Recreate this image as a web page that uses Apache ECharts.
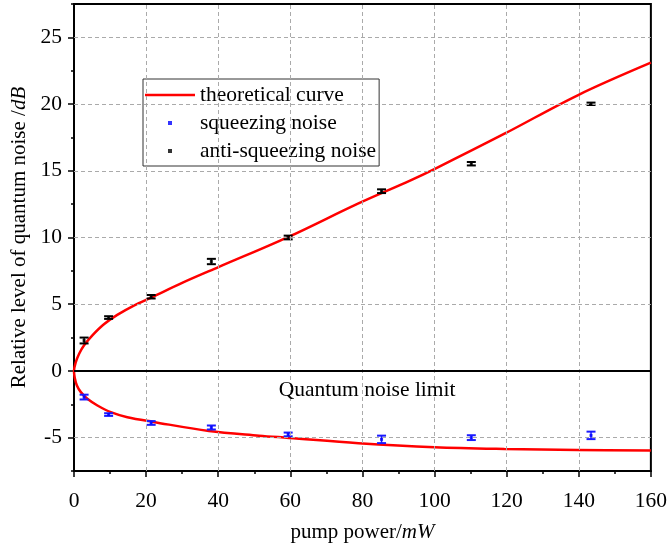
<!DOCTYPE html>
<html>
<head>
<meta charset="utf-8">
<script src="https://cdn.jsdelivr.net/npm/echarts@6/dist/echarts.min.js"></script>
<style>html,body{margin:0;padding:0;background:#fff;}#c{width:670px;height:551px;}</style>
</head>
<body>
<div id="c"></div>
<script>
// ---- data ----
const pumpPower = [2.8, 9.6, 21.4, 38.1, 59.4, 85.3, 110.2, 143.4];
const antiSqueezing = [2.28, 4.0, 5.56, 8.2, 10.0, 13.47, 15.53, 20.02];
const antiSqueezingErr = [0.22, 0.1, 0.13, 0.2, 0.14, 0.14, 0.13, 0.09];
const squeezing = [-1.96, -3.27, -3.9, -4.24, -4.76, -5.13, -5.0, -4.83];
const squeezingErr = [0.18, 0.1, 0.14, 0.15, 0.14, 0.28, 0.18, 0.28];
// theoretical curve, upper branch (anti-squeezing) and lower branch (squeezing)
const curveUpperX = [0, 0.5, 1.43, 2.8, 5.1, 8.3, 12.0, 16.6, 21.4, 30.0, 40.2, 59.5, 78.9, 93.2, 100.1, 119.4, 139.7, 160];
const curveUpperY = [0, 0.66, 1.29, 1.92, 2.67, 3.5, 4.2, 4.9, 5.5, 6.6, 7.8, 10.05, 12.56, 14.27, 15.15, 17.78, 20.66, 23.1];
const curveLowerX = [0, 0.2, 0.8, 1.9, 3.7, 6.5, 10.2, 14.8, 22.0, 37.4, 51.3, 59.6, 78.9, 100.0, 119.4, 139.7, 160];
const curveLowerY = [0, -0.51, -1.09, -1.59, -2.09, -2.59, -3.09, -3.47, -3.82, -4.5, -4.85, -5.02, -5.42, -5.72, -5.85, -5.92, -5.97];
const xTicks = {min: 0, max: 160, interval: 20};
const xGridValues = [20, 40, 60, 80, 100, 120, 140];
const yMajorTicks = [-5, 0, 5, 10, 15, 20, 25];
const yMinorTicks = [-7.5, -2.5, 2.5, 7.5, 12.5, 17.5, 22.5, 27.5];
const yGridValues = [-5, 5, 10, 15, 20, 25];
const yRange = {min: -7.5, max: 27.5};
const noiseLimitLabel = {text: 'Quantum noise limit', x: 81.3, y: -1.42};

// ---- build ----
const FONT = '"Liberation Serif","Times New Roman",serif';
const curveData = [];
for (let i = curveUpperX.length - 1; i >= 0; i--) curveData.push([curveUpperX[i], curveUpperY[i]]);
for (let i = 1; i < curveLowerX.length; i++) curveData.push([curveLowerX[i], curveLowerY[i]]);

const sqPts = pumpPower.map((x, i) => [x, squeezing[i], squeezingErr[i]]);
const asqPts = pumpPower.map((x, i) => [x, antiSqueezing[i], antiSqueezingErr[i]]);

function errRender(color) {
  return function (params, api) {
    const x = api.value(0), y = api.value(1), e = api.value(2);
    const hi = api.coord([x, y + e]);
    const lo = api.coord([x, y - e]);
    const hw = 4.5;
    const st = {stroke: color, lineWidth: 2};
    return {
      type: 'group',
      children: [
        {type: 'line', shape: {x1: hi[0], y1: hi[1], x2: lo[0], y2: lo[1]}, style: {stroke: color, lineWidth: 1.5}},
        {type: 'line', shape: {x1: hi[0] - hw, y1: hi[1], x2: hi[0] + hw, y2: hi[1]}, style: st},
        {type: 'line', shape: {x1: lo[0] - hw, y1: lo[1], x2: lo[0] + hw, y2: lo[1]}, style: st}
      ]
    };
  };
}

const dashed = {color: '#aaaaaa', type: [4, 3], width: 1};
const gridMarks = []
  .concat(xGridValues.map(v => ({xAxis: v, lineStyle: dashed})))
  .concat(yGridValues.map(v => ({yAxis: v, lineStyle: dashed})))
  .concat([{yAxis: 0, lineStyle: {color: '#000', type: 'solid', width: 2}}]);

const chart = echarts.init(document.getElementById('c'), null, {renderer: 'canvas'});
const SQUARE = 'path://M0,0L1,0L1,1L0,1Z';
const BAR = 'path://M0,0L50,0L50,2.5L0,2.5Z';
chart.setOption({
  animation: false,
  backgroundColor: '#fff',
  textStyle: {fontFamily: FONT},
  grid: {left: 74, right: 16, top: 4, bottom: 80, show: true, borderColor: '#000', borderWidth: 2, backgroundColor: 'transparent'},
  legend: {
    left: 143, top: 79, orient: 'vertical',
    data: [
      {name: 'theoretical curve', icon: BAR},
      {name: 'squeezing noise', icon: SQUARE},
      {name: 'anti-squeezing noise', icon: SQUARE}
    ],
    itemWidth: 50, itemHeight: 4, itemGap: 6, symbolKeepAspect: true,
    padding: [5, 3, 4, 2],
    borderColor: '#333', borderWidth: 1, backgroundColor: '#fff',
    textStyle: {fontFamily: FONT, fontSize: 21.5, color: '#000'}
  },
  xAxis: {
    type: 'value', min: xTicks.min, max: xTicks.max, interval: xTicks.interval,
    name: '{n|pump power/}{i|mW}', nameLocation: 'middle', nameGap: 51,
    nameTextStyle: {rich: {
      n: {fontFamily: FONT, fontSize: 21, color: '#000'},
      i: {fontFamily: FONT, fontSize: 21, color: '#000', fontStyle: 'italic'}
    }},
    axisLine: {show: true, onZero: false, lineStyle: {color: '#000', width: 2}},
    axisTick: {show: true, length: 6, lineStyle: {color: '#000', width: 1.5}},
    minorTick: {show: true, splitNumber: 2, length: 3, lineStyle: {color: '#000', width: 1.5}},
    axisLabel: {fontFamily: FONT, fontSize: 21.5, color: '#000', margin: 19},
    splitLine: {show: false},
    minorSplitLine: {show: false}
  },
  yAxis: [{
    type: 'value', min: yRange.min, max: yRange.max,
    name: '{n|Relative level of quantum noise /}{i|dB}', nameLocation: 'middle', nameGap: 40, nameRotate: 90,
    nameTextStyle: {rich: {
      n: {fontFamily: FONT, fontSize: 21, color: '#000'},
      i: {fontFamily: FONT, fontSize: 21, color: '#000', fontStyle: 'italic'}
    }},
    axisLine: {show: true, onZero: false, lineStyle: {color: '#000', width: 2}},
    axisTick: {show: true, length: 6, customValues: yMajorTicks, lineStyle: {color: '#000', width: 1.5}},
    axisLabel: {fontFamily: FONT, fontSize: 21.5, color: '#000', margin: 12, customValues: yMajorTicks},
    splitLine: {show: false},
    minorSplitLine: {show: false}
  }, {
    type: 'value', min: yRange.min, max: yRange.max, position: 'left',
    axisLine: {show: false},
    axisTick: {show: true, length: 3, customValues: yMinorTicks, lineStyle: {color: '#000', width: 1.5}},
    axisLabel: {show: false},
    splitLine: {show: false},
    minorSplitLine: {show: false}
  }],
  series: [
    {
      name: 'grid', type: 'line', data: [], z: 1,
      markLine: {silent: true, symbol: 'none', label: {show: false}, data: gridMarks}
    },
    {
      name: 'theoretical curve', type: 'line', data: curveData, smooth: 0.35,
      symbol: 'none', lineStyle: {color: '#ff0000', width: 2.5}, itemStyle: {color: '#ff0000'}, z: 3,
      markPoint: {
        silent: true, symbol: 'rect', symbolSize: 0,
        label: {show: true, position: 'inside', formatter: noiseLimitLabel.text, fontFamily: FONT, fontSize: 21.5, color: '#000'},
        data: [{coord: [noiseLimitLabel.x, noiseLimitLabel.y]}]
      }
    },
    {
      name: 'squeezing noise', type: 'scatter', data: sqPts, symbol: 'rect', symbolSize: 3,
      itemStyle: {color: '#0000ff'}, z: 5
    },
    {
      name: 'anti-squeezing noise', type: 'scatter', data: asqPts, symbol: 'rect', symbolSize: 3,
      itemStyle: {color: '#000'}, z: 5
    },
    {name: 'sqErr', type: 'custom', data: sqPts, renderItem: errRender('#1a1aff'), z: 4, encode: {x: 0, y: 1}},
    {name: 'asqErr', type: 'custom', data: asqPts, renderItem: errRender('#000'), z: 4, encode: {x: 0, y: 1}}
  ]
});
</script>
</body>
</html>
